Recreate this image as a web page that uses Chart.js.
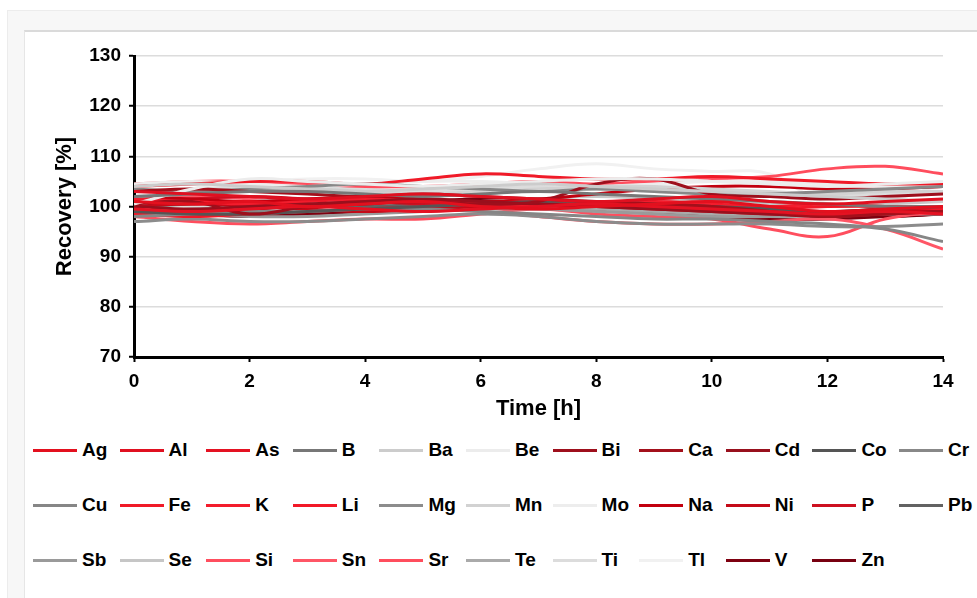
<!DOCTYPE html>
<html lang="en">
<head>
  <meta charset="UTF-8">
  <title>Recovery</title>
  <style>
    html, body { margin: 0; padding: 0; background: #fff; overflow: hidden; }
    body { width: 977px; height: 598px; position: relative; font-family: "Liberation Sans", Arial, sans-serif; }
    #outer { position: absolute; left: 7px; top: 10px; width: 990px; height: 600px; background: #f7f7f7; border: 1px solid #ececec; }
    #inner { position: absolute; left: 24px; top: 30px; width: 980px; height: 600px; background: #fff; border-top: 2px solid #dadada; border-left: 1px solid #e6e6e6; }
    #wrap { position: absolute; left: 0; top: 0; width: 977px; height: 430px; }
    #legend { position: absolute; left: 0; top: 0; }
    .item { position: absolute; height: 20px; display: flex; align-items: center; }
    .item .ln { width: 44px; height: 3px; margin-right: 5px; }
    .item span { font-weight: bold; font-size: 19px; color: #000; }
  </style>
</head>
<body>
  <div id="outer"></div>
  <div id="inner"></div>
  <div id="wrap"><canvas id="myChart" width="977" height="430"></canvas></div>
  <div id="legend"></div>
  <script src="https://cdn.jsdelivr.net/npm/chart.js@4.4.0/dist/chart.umd.min.js"></script>
  <script>
    // time points [h]
    const times = [0, 1, 2, 3, 4, 5, 6, 7, 8, 9, 10, 11, 12, 13, 14];

    const elements = ['Ag','Al','As','B','Ba','Be','Bi','Ca','Cd','Co','Cr',
                      'Cu','Fe','K','Li','Mg','Mn','Mo','Na','Ni','P','Pb',
                      'Sb','Se','Si','Sn','Sr','Te','Ti','Tl','V','Zn'];

    const colors = ['#e3101e','#e01020','#e41222','#777777','#cccccc','#ececec','#9e0f1c','#a3101b','#98101d','#555555','#888888',
                    '#868686','#f01a28','#f31c2c','#f21827','#8c8c8c','#d2d2d2','#ededed','#c2000f','#c40a18','#cd1020','#626262',
                    '#9a9a9a','#c6c6c6','#ff4e5e','#ff5666','#ff4d5d','#aaaaaa','#dcdcdc','#f1f1f1','#7e0010','#780010'];

    // recovery [%] per element
    const Ag = [101,100.5,101,100,100.5,101,100,99.5,100,100.5,101,100,99,99.5,100];
    const Al = [103,102.5,102,101.5,102,102.5,102,101.5,101,101.5,102,101,100.5,101,101.5];
    const As = [99.5,99,99.5,100,99.5,99,99.5,100,100.5,100,99.5,99,98.5,99,98.5];
    const B  = [102,102.5,103,103,102.5,102,102.5,103,102.5,102,101.5,101,100.5,100,100];
    const Ba = [104,104.5,104,103.5,103,103.5,104,104.5,104,103.5,103,102.5,102,101.5,101];
    const Be = [100.5,103.5,105.5,105,104.5,104,104.5,105,105.5,105.5,105,104.5,104,104.5,105];
    const Bi = [100.5,101,98.5,100,100.5,101,100.5,101,104.5,105.5,102.5,102,101.5,102,102.5];
    const Ca = [103,103.5,103,102.5,102,102.5,102,101.5,101,100.5,100,99,98,98.5,99];
    const Cd = [100,99.5,100,100.5,101,101.5,101,100.5,100,99.5,99,98.5,98,98.5,99];
    const Co = [99,98.5,98.5,99,99.5,100,100.5,101,101,100.5,100,99.5,99,99.5,100];
    const Cr = [103.5,103,103.5,104,104.5,104,103.5,103,103.5,103,102.5,102.5,103,103.5,104];
    const Cu = [98,98.5,99,99,99.5,99.5,99,98.5,98,97.5,97.5,97,96.5,95.5,93];
    const Fe = [104,104.5,105,105,104.5,105.5,106.5,106,105.5,105.5,106,105.5,105,104.5,104.5];
    const K  = [101.5,101,100.5,101,101.5,101,100.5,100,100.5,101,100.5,100,100.5,100,100];
    const Li = [98.5,98,98.5,99,99.5,100,100.5,101,100.5,100,99.5,99.5,100,100,99.5];
    const Mg = [97,97.5,97,97,97.5,98,98.5,98,97,96.5,96.5,96.5,96,96,96.5];
    const Mn = [102,102.5,103,103.5,103,102.5,103,103.5,104,104,103.5,103,102.5,103,103];
    const Mo = [104.5,105,104.5,104,104.5,105,105,104.5,104,104.5,105,105,104.5,104,104.5];
    const Na = [102,101.5,101,101.5,102,101.5,101,101.5,102.5,103.5,104,104,103.5,103.5,104];
    const Ni = [100,100.5,100,99.5,99,99.5,100,100.5,100,99.5,99,98.5,98.5,99,99.5];
    const P  = [101,101.5,102,101.5,101,100.5,100,100.5,101,100.5,100,99.5,99,99.5,100];
    const Pb = [100,100.5,101,100.5,100,100.5,101,100.5,100,100.5,100,99,98.5,99,99.5];
    const Sb = [99,98.5,98,98,98.5,99,99.5,99.5,99,98.5,98,98,98.5,99,99.5];
    const Se = [101,100.5,101,101.5,101,100.5,101,101.5,102,101.5,101,100.5,100,100.5,101];
    const Si = [98,97,96.5,97,97.5,97.5,98.5,99.5,98.5,98,97.5,95.5,94,97.5,99];
    const Sn = [101,102,101.5,100.5,100,99.5,99,98,97,96.5,96.5,97,97.5,95.5,91.5];
    const Sr = [104.5,105,105,104.5,104,104,104.5,105,104.5,105,105.5,106,107.5,108,106.5];
    const Te = [99,99.5,100,100.5,100.5,100,100.5,100,99.5,99,98.5,98,98,98.5,98.5];
    const Ti = [103,103.5,104,104,103.5,103,103.5,104,103.5,103,102.5,102,102,102.5,103];
    const Tl = [104,104.5,105,105.5,105.5,105,106,107.5,108.5,107.5,107,106.5,100.5,101,104.5];
    const V  = [99,98.5,98,98.5,99,99.5,100,100,99.5,99,98,97.5,97.5,98,98.5];
    const Zn = [98.5,99,99.5,100,100.5,101,101.5,101,100.5,100,99.5,99,98.5,98,98.5];

    const series = [Ag,Al,As,B,Ba,Be,Bi,Ca,Cd,Co,Cr,Cu,Fe,K,Li,Mg,Mn,Mo,Na,Ni,P,Pb,Sb,Se,Si,Sn,Sr,Te,Ti,Tl,V,Zn];

    const yTicks = [70, 80, 90, 100, 110, 120, 130];
    const xTicks = [0, 2, 4, 6, 8, 10, 12, 14];

    const FONT = '"Liberation Sans", Arial, sans-serif';

    const datasets = elements.map((name, i) => ({
      label: name,
      data: times.map((t, j) => ({ x: t, y: series[i][j] })),
      borderColor: colors[i],
      backgroundColor: colors[i],
      borderWidth: 3,
      pointRadius: 0,
      tension: 0.4,
      fill: false
    }));

    const ctx = document.getElementById('myChart');
    const myChart = new Chart(ctx, {
      type: 'line',
      data: { datasets },
      options: {
        responsive: false,
        animation: false,
        layout: { padding: { left: 50, top: 56, right: 34, bottom: 6 } },
        plugins: { legend: { display: false }, tooltip: { enabled: false } },
        scales: {
          x: {
            type: 'linear', min: 0, max: 14,
            afterBuildTicks: (s) => { s.ticks = xTicks.map(v => ({ value: v })); },
            afterFit: (s) => { s.height = 430 - 6 - 357; },
            border: { color: '#000', width: 3 },
            grid: { drawOnChartArea: false, tickLength: 5, tickColor: '#000', tickWidth: 2 },
            ticks: { color: '#000', font: { family: FONT, size: 19, weight: 'bold' }, padding: 8, maxRotation: 0 },
            title: { display: true, text: 'Time [h]', color: '#000', font: { family: FONT, size: 22, weight: 'bold' }, padding: { top: 4, bottom: 2 } }
          },
          y: {
            min: 70, max: 130,
            afterBuildTicks: (s) => { s.ticks = yTicks.map(v => ({ value: v })); },
            afterFit: (s) => { s.width = 134 - 50; },
            border: { color: '#000', width: 3 },
            grid: { color: '#dcdcdc', lineWidth: 1.5, tickLength: 5, tickColor: '#000', tickWidth: 2 },
            ticks: { color: '#000', font: { family: FONT, size: 19, weight: 'bold' }, padding: 8 },
            title: { display: true, text: 'Recovery [%]', color: '#000', font: { family: FONT, size: 22, weight: 'bold' }, padding: 2 }
          }
        }
      }
    });

    // legend laid out as a grid of 11 columns
    const legendEl = document.getElementById('legend');
    elements.forEach((name, i) => {
      const col = i % 11, row = Math.floor(i / 11);
      const item = document.createElement('div');
      item.className = 'item';
      item.style.left = (33 + col * 86.6) + 'px';
      item.style.top = (440 + row * 55) + 'px';
      item.innerHTML = '<div class="ln" style="background:' + colors[i] + '"></div><span>' + name + '</span>';
      legendEl.appendChild(item);
    });
  </script>
</body>
</html>
